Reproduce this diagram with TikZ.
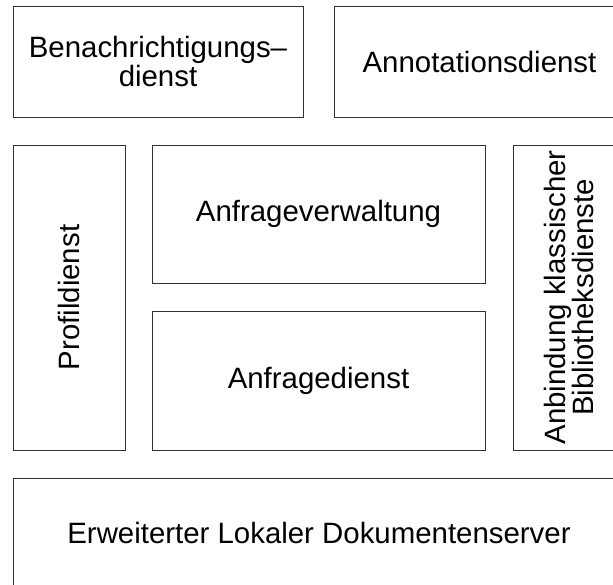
\documentclass[tikz,border=0pt]{standalone}
\usepackage{fontspec}
\setmainfont{Liberation Sans}

\begin{document}
\begin{tikzpicture}[
    x=1pt, y=-1pt,
    dienst/.style={draw=black!80, line width=0.9pt, inner sep=0pt, align=center,
        font=\fontsize{29.4}{28.5}\selectfont},
]
\useasboundingbox (0, 0) rectangle (613, 584);
\clip (0, 0) rectangle (613, 584);

\node[dienst, minimum width=290, minimum height=111] (benach) at (158, 61.5) {Benachrichtigungs–\\dienst};
\node[dienst, minimum width=291, minimum height=111] (annot) at (479.5, 61.5) {Annotationsdienst};

\node[dienst, rotate=90, minimum width=305, minimum height=112] (profil) at (69, 297.5) {Profildienst};
\node[dienst, minimum width=333, minimum height=138] (verwaltung) at (318.5, 214) {Anfrageverwaltung};
\node[dienst, minimum width=333, minimum height=139] (anfrage) at (318.5, 380.5) {Anfragedienst};
\node[dienst, rotate=90, minimum width=305, minimum height=112] (anbindung) at (569, 297.5) {Anbindung klassischer\\Bibliotheksdienste};

\node[dienst, minimum width=612, minimum height=109] (server) at (319, 532.5) {Erweiterter Lokaler Dokumentenserver};
\end{tikzpicture}
\end{document}
